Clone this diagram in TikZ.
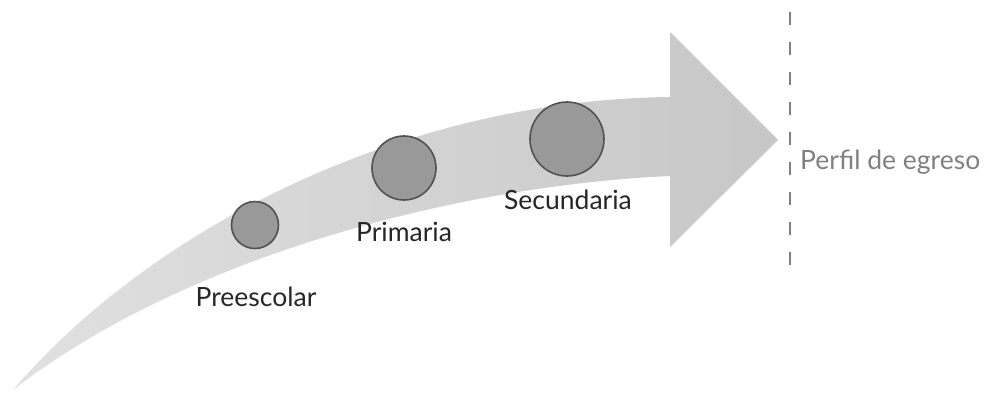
\documentclass[tikz,border=0pt]{standalone}
\usepackage{fontspec}
\setmainfont{Lato}
\begin{document}
\begin{tikzpicture}[x=1pt,y=-1pt,
  stage/.style={circle,draw=black!68,line width=1.6pt,fill=black!40,inner sep=0pt},
  stagelabel/.style={font=\fontsize{26.5}{26.5}\selectfont,text=black!85,inner sep=0pt},
  goal/.style={font=\fontsize{26.5}{26.5}\selectfont,text=black!50,inner sep=0pt,anchor=west}]
\useasboundingbox (0,0) rectangle (986,392);
% curved arrow body
\coordinate (tail) at (13,390);
\coordinate (up) at (670,97);
\coordinate (lo) at (670,176);
\coordinate (ht) at (670,32);
\coordinate (hb) at (670,247);
\coordinate (tip) at (778,140);
\path[left color=black!12,right color=black!22,shading angle=90]
  (tail) .. controls (150,230) and (400,100) .. (up) -- (ht) -- (tip) -- (hb) -- (lo)
  .. controls (450,186) and (180,260) .. (tail) -- cycle;
% stages
\node[stage,minimum size=47pt] (pre) at (255,225) {};
\node[stage,minimum size=64pt] (pri) at (404,168) {};
\node[stage,minimum size=74pt] (sec) at (567,139) {};
\node[stagelabel] (prel) at (256,297) {Preescolar};
\node[stagelabel] (pril) at (404,232) {Primaria};
\node[stagelabel] (secl) at (568,200) {Secundaria};
% dashed line
\coordinate (dtop) at (790,12);
\coordinate (dbot) at (790,277);
\draw[black!50,line width=2pt,dash pattern=on 13pt off 17pt] (dtop) -- (dbot);
\node[goal] (perfil) at (800,162) {Perfil de egreso};
\end{tikzpicture}
\end{document}
